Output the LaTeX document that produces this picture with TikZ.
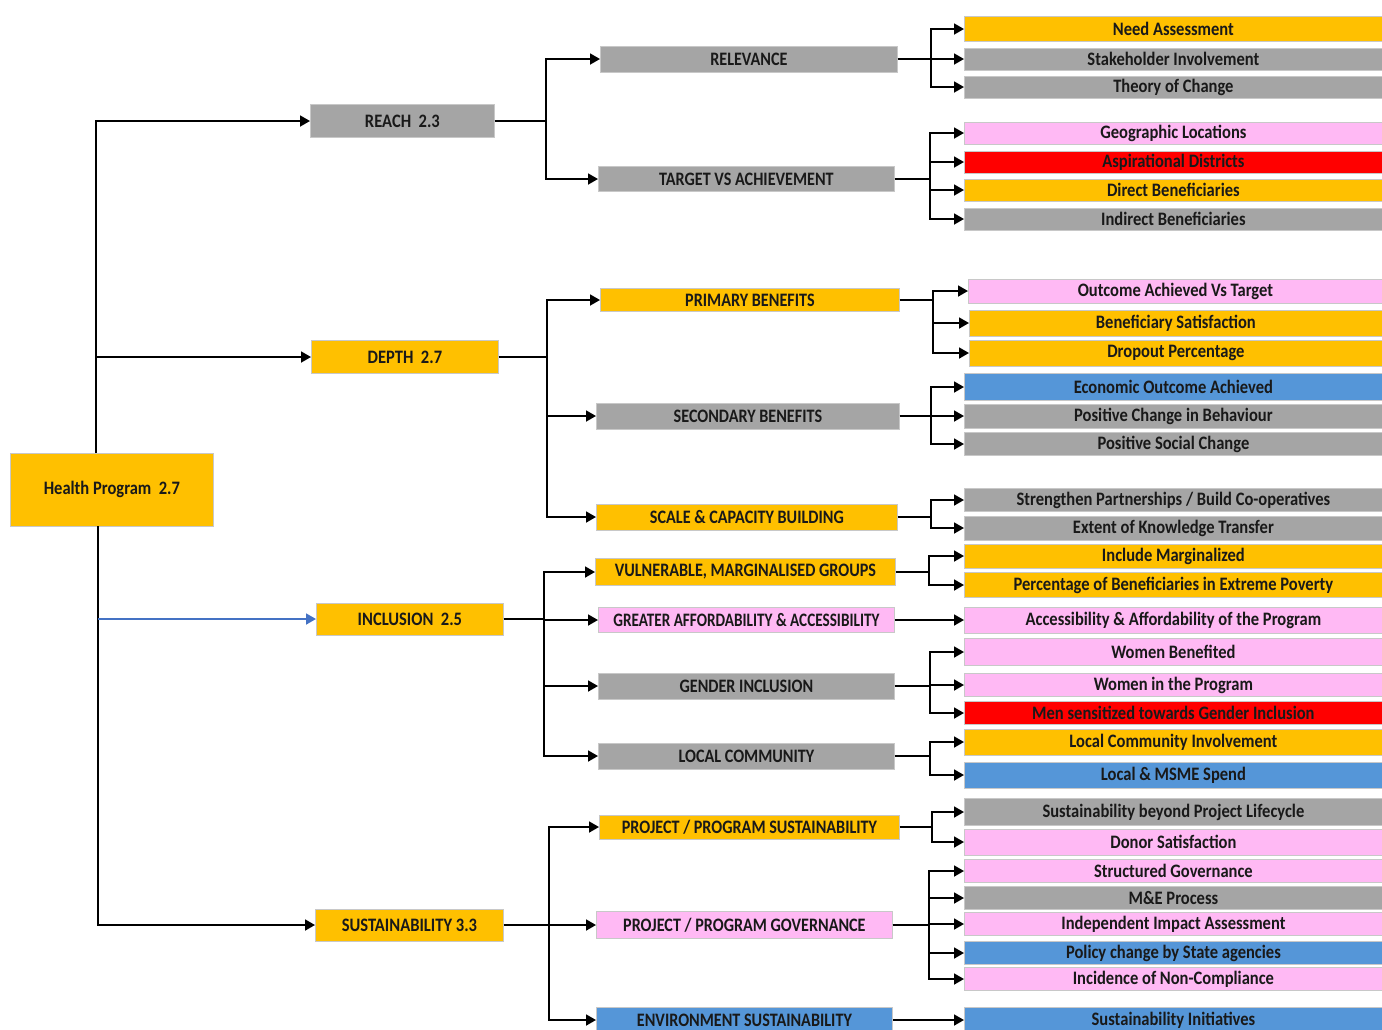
\documentclass[tikz,border=0pt]{standalone}
\usepackage{fontspec}
\setmainfont{Carlito}[FakeStretch=0.87]
\newfontfamily\midfont{Carlito}[FakeStretch=0.85]
\newfontfamily\narrowfont{Carlito}[FakeStretch=0.80]
\usetikzlibrary{arrows.meta}
\definecolor{cY}{HTML}{FFC000}
\definecolor{cG}{HTML}{A5A5A5}
\definecolor{cP}{HTML}{FFB9F4}
\definecolor{cR}{HTML}{FF0000}
\definecolor{cB}{HTML}{5596D8}
\definecolor{cBd}{HTML}{C8C8C8}
\definecolor{cLink}{HTML}{4472C4}
\begin{document}
\begin{tikzpicture}[x=1pt,y=-1pt,
 box/.style={draw=cBd, line width=0.8pt, inner sep=0pt, font=\bfseries\fontsize{19}{19}\selectfont, text=black!90},
 leaf/.style={box, anchor=west, minimum width=418pt, minimum height=24pt},
 top/.style={box, anchor=west, minimum height=33pt},
 mid/.style={box, anchor=west, minimum height=26pt, font=\midfont\bfseries\fontsize{19}{19}\selectfont},
 ln/.style={line width=1.8pt, black},
 arr/.style={ln, -{Triangle[length=10pt,width=11pt]}},
]
\useasboundingbox (0,0) rectangle (1382,1029);

% root
\node[box, fill=cY, minimum width=203pt, minimum height=73pt, anchor=north west] (root) at (10,453) {Health Program~~2.7};

% level 1
\node[top, fill=cG, minimum width=184pt] (reach) at (310,121) {REACH~~2.3};
\node[top, fill=cY, minimum width=187pt] (depth) at (311,357) {DEPTH~~2.7};
\node[top, fill=cY, minimum width=187pt, minimum height=32pt] (incl) at (316,619) {INCLUSION~~2.5};
\node[top, fill=cY, minimum width=188pt, minimum height=32pt] (sust) at (315,925) {SUSTAINABILITY 3.3};

% level 2
\node[mid, fill=cG, minimum width=297pt] (rel) at (600,59) {RELEVANCE};
\node[mid, fill=cG, minimum width=296pt, minimum height=25pt] (tva) at (598,179) {TARGET VS ACHIEVEMENT};
\node[mid, fill=cY, minimum width=299pt, minimum height=23pt] (prim) at (600,300) {PRIMARY BENEFITS};
\node[mid, fill=cG, minimum width=303pt] (sec) at (596,416) {SECONDARY BENEFITS};
\node[mid, fill=cY, minimum width=301pt] (scale) at (596,517) {SCALE \& CAPACITY BUILDING};
\node[mid, fill=cY, minimum width=300pt, minimum height=27pt] (vul) at (595,572) {VULNERABLE, MARGINALISED GROUPS};
\node[mid, fill=cP, minimum width=296pt, minimum height=25pt, font=\narrowfont\bfseries\fontsize{19}{19}\selectfont] (gre) at (598,620) {GREATER AFFORDABILITY \& ACCESSIBILITY};
\node[mid, fill=cG, minimum width=296pt] (gen) at (598,686) {GENDER INCLUSION};
\node[mid, fill=cG, minimum width=296pt] (loc) at (598,756) {LOCAL COMMUNITY};
\node[mid, fill=cY, minimum width=300pt, minimum height=24pt] (pps) at (599,827) {PROJECT / PROGRAM SUSTAINABILITY};
\node[mid, fill=cP, minimum width=296pt, minimum height=27pt] (ppg) at (596,925) {PROJECT / PROGRAM GOVERNANCE};
\node[mid, fill=cB, minimum width=296pt, minimum height=26pt] (env) at (596,1020) {ENVIRONMENT SUSTAINABILITY};

% leaves
\node[leaf, fill=cY, minimum height=25pt] (need) at (964,29) {Need Assessment};
\node[leaf, fill=cG, minimum height=22pt] (stake) at (964,59) {Stakeholder Involvement};
\node[leaf, fill=cG, minimum height=22pt] (theory) at (964,87) {Theory of Change};
\node[leaf, fill=cP, minimum height=22pt] (geo) at (964,133) {Geographic Locations};
\node[leaf, fill=cR, minimum height=22pt] (asp) at (964,162) {Aspirational Districts};
\node[leaf, fill=cY, minimum height=22pt] (direct) at (964,190) {Direct Beneficiaries};
\node[leaf, fill=cG, minimum height=22pt] (indirect) at (964,219) {Indirect Beneficiaries};
\node[leaf, fill=cP, minimum width=414pt] (outcome) at (968,291) {Outcome Achieved Vs Target};
\node[leaf, fill=cY, minimum width=413pt, minimum height=26pt] (benef) at (969,323) {Beneficiary Satisfaction};
\node[leaf, fill=cY, minimum width=413pt, minimum height=26pt] (drop) at (969,353) {Dropout Percentage};
\node[leaf, fill=cB, minimum height=27pt] (econ) at (964,387) {Economic Outcome Achieved};
\node[leaf, fill=cG] (posbeh) at (964,416) {Positive Change in Behaviour};
\node[leaf, fill=cG, minimum height=23pt] (possoc) at (964,444) {Positive Social Change};
\node[leaf, fill=cG, minimum height=23pt] (stren) at (964,500) {Strengthen Partnerships / Build Co-operatives};
\node[leaf, fill=cG] (extent) at (964,528) {Extent of Knowledge Transfer};
\node[leaf, fill=cY] (inclm) at (964,556) {Include Marginalized};
\node[leaf, fill=cY, minimum height=25pt] (perc) at (964,585) {Percentage of Beneficiaries in Extreme Poverty};
\node[leaf, fill=cP, minimum height=26pt] (access) at (964,620) {Accessibility \& Affordability of the Program};
\node[leaf, fill=cP, minimum height=27pt] (womenb) at (964,652) {Women Benefited};
\node[leaf, fill=cP, minimum height=23pt] (womenp) at (964,685) {Women in the Program};
\node[leaf, fill=cR, minimum height=23pt] (men) at (964,713) {Men sensitized towards Gender Inclusion};
\node[leaf, fill=cY, minimum height=26pt] (lci) at (964,742) {Local Community Involvement};
\node[leaf, fill=cB, minimum height=26pt] (msme) at (964,775) {Local \& MSME Spend};
\node[leaf, fill=cG, minimum height=27pt] (sbpl) at (964,812) {Sustainability beyond Project Lifecycle};
\node[leaf, fill=cP, minimum height=26pt] (donor) at (964,842) {Donor Satisfaction};
\node[leaf, fill=cP, minimum height=23pt] (struct) at (964,871) {Structured Governance};
\node[leaf, fill=cG, minimum height=23pt] (me) at (964,898) {M\&E Process};
\node[leaf, fill=cP, minimum height=23pt] (iia) at (964,924) {Independent Impact Assessment};
\node[leaf, fill=cB, minimum height=23pt] (policy) at (964,953) {Policy change by State agencies};
\node[leaf, fill=cP, minimum height=23pt] (incid) at (964,979) {Incidence of Non-Compliance};
\node[leaf, fill=cB, minimum height=26pt] (sinit) at (964,1020) {Sustainability Initiatives};

% bus coordinates
\coordinate (tUp) at (96,453);
\coordinate (tDn) at (98,526);
\coordinate (bReach) at (546,121);
\coordinate (bDepth) at (547,357);
\coordinate (bIncl) at (544,619);
\coordinate (bSust) at (549,925);
\coordinate (bRel) at (931,59);
\coordinate (bTva) at (930,179);
\coordinate (bPrim) at (933,300);
\coordinate (bSec) at (931,416);
\coordinate (bScale) at (931,517);
\coordinate (bVul) at (929,572);
\coordinate (bGen) at (930,686);
\coordinate (bLoc) at (930,756);
\coordinate (bPps) at (932,827);
\coordinate (bPpg) at (929,925);

% trunk
\draw[arr] (tUp) |- (reach.west);
\draw[arr] (tUp |- depth.west) -- (depth.west);
\draw[ln] (tDn) -- (tDn |- sust.west);
\draw[arr] (tDn) |- (sust.west);
\draw[line width=1.8pt, cLink, -{Triangle[length=10pt,width=11pt]}] (tDn |- incl.west) -- (incl.west);

% level 1 -> level 2
\draw[arr] (reach.east) -- (bReach) |- (rel.west);
\draw[arr] (reach.east) -- (bReach) |- (tva.west);
\draw[arr] (depth.east) -- (bDepth) |- (prim.west);
\draw[arr] (depth.east) -- (bDepth) |- (sec.west);
\draw[arr] (depth.east) -- (bDepth) |- (scale.west);
\draw[arr] (incl.east) -- (bIncl) |- (vul.west);
\draw[arr] (incl.east) -- (bIncl) |- (gre.west);
\draw[arr] (incl.east) -- (bIncl) |- (gen.west);
\draw[arr] (incl.east) -- (bIncl) |- (loc.west);
\draw[arr] (sust.east) -- (bSust) |- (pps.west);
\draw[arr] (sust.east) -- (bSust) |- (ppg.west);
\draw[arr] (sust.east) -- (bSust) |- (env.west);

% level 2 -> leaves
\foreach \p/\b/\c in {rel/bRel/need, rel/bRel/stake, rel/bRel/theory,
  tva/bTva/geo, tva/bTva/asp, tva/bTva/direct, tva/bTva/indirect,
  prim/bPrim/outcome, prim/bPrim/benef, prim/bPrim/drop,
  sec/bSec/econ, sec/bSec/posbeh, sec/bSec/possoc,
  scale/bScale/stren, scale/bScale/extent,
  vul/bVul/inclm, vul/bVul/perc,
  gen/bGen/womenb, gen/bGen/womenp, gen/bGen/men,
  loc/bLoc/lci, loc/bLoc/msme,
  pps/bPps/sbpl, pps/bPps/donor,
  ppg/bPpg/struct, ppg/bPpg/me, ppg/bPpg/iia, ppg/bPpg/policy, ppg/bPpg/incid}
  {\draw[arr] (\p.east) -- (\b) |- (\c.west);}
\draw[arr] (gre.east) -- (access.west);
\draw[arr] (env.east) -- (sinit.west);
\end{tikzpicture}
\end{document}
